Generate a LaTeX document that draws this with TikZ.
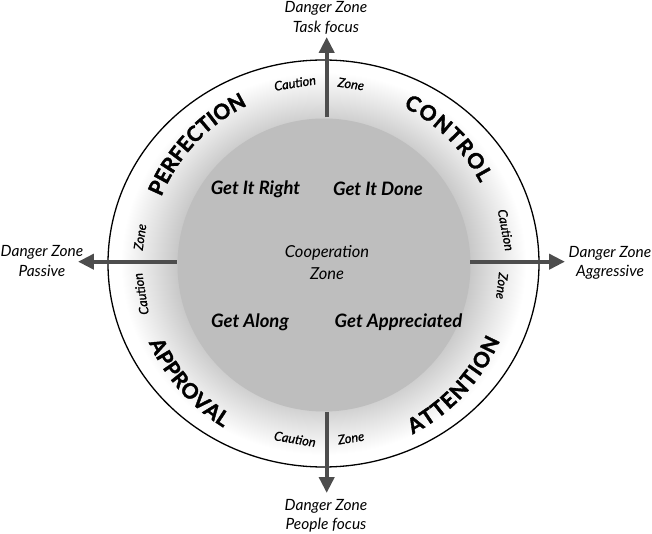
\documentclass[tikz,border=0pt]{standalone}
\usepackage{fontspec}
\setmainfont{Lato}
\newfontfamily\bigfont{Lato}[BoldFeatures={FakeBold=1.8}]
\newfontfamily\cautfont{Lato}[ItalicFeatures={FakeBold=0.9}]
\usetikzlibrary{arrows.meta,decorations.text}
\definecolor{arrowgray}{RGB}{77,77,77}
\definecolor{diskgray}{RGB}{190,190,190}
\definecolor{ringgray}{RGB}{200,200,200}
\definecolor{ringmid}{RGB}{226,226,226}
\pgfdeclareradialshading{ringshade}{\pgfpointorigin}{color(0bp)=(ringgray); color(17bp)=(ringgray); color(20bp)=(ringmid); color(23.5bp)=(white); color(50bp)=(white)}
\begin{document}
\begin{tikzpicture}[x=1pt,y=1pt,
  danger/.style={font=\itshape\fontsize{15.5}{19.5}\selectfont, align=center, inner sep=0pt},
  getlbl/.style={font=\bfseries\itshape\fontsize{18.5}{20}\selectfont, inner sep=0pt},
  coop/.style={font=\itshape\fontsize{16.5}{22}\selectfont, align=center, inner sep=0pt},
  caut/.style={font=\cautfont\itshape\fontsize{12.8}{14}\selectfont, inner sep=0pt},
  arr/.style={draw=arrowgray, line width=4pt, -{Triangle[length=16pt,width=15pt]}},
  bigword/.style={decorate, decoration={text along path, text align={fit to path}}},
]
\useasboundingbox (-324,-270) rectangle (328,264);
% ring and disk
\shade[shading=ringshade] (-0.5,0.5) ellipse [x radius=215.5, y radius=203.5];
\fill[diskgray] (0,-1) circle (146.5);
\draw[line width=1.3pt] (-0.5,0.5) ellipse [x radius=215.5, y radius=203.5];
% arrow end points
\coordinate (topin) at (2.7,146.7);
\coordinate (toptip) at (2.7,227);
\coordinate (botin) at (2.7,-148);
\coordinate (bottip) at (2.7,-229);
\coordinate (leftin) at (-147.3,2.3);
\coordinate (lefttip) at (-246,2.3);
\coordinate (rightin) at (146,2.3);
\coordinate (righttip) at (241,2.3);
\draw[arr] (topin) -- (toptip);
\draw[arr] (botin) -- (bottip);
\draw[arr] (leftin) -- (lefttip);
\draw[arr] (rightin) -- (righttip);
% danger labels
\node[danger] (dtop) at (2,246) {Danger Zone\\Task focus};
\node[danger] (dbot) at (2,-252) {Danger Zone\\People focus};
\node[danger] (dleft) at (-282,3) {Danger Zone\\Passive};
\node[danger] (dright) at (286,1) {Danger Zone\\Aggressive};
% inner labels
\node[coop] (coop) at (3,1) {Cooperation\\Zone};
\node[getlbl] (right) at (-68.5,75) {Get It Right};
\node[getlbl] (done) at (54,75) {Get It Done};
\node[getlbl] (along) at (-74,-58) {Get Along};
\node[getlbl] (appr) at (74.5,-58) {Get Appreciated};
% caution zone words
\node[caut, rotate=9.1] (ctop) at (-29,181) {Caution};
\node[caut, rotate=-8.5] (ztop) at (27,180) {Zone};
\node[caut, rotate=-9.4] (cbot) at (-29,-175) {Caution};
\node[caut, rotate=8.8] (zbot) at (27,-174) {Zone};
\node[caut, rotate=81.7] (zleft) at (-184,27) {Zone};
\node[caut, rotate=99.3] (cleft) at (-183,-30) {Caution};
\node[caut, rotate=-79.4] (cright) at (182,34) {Caution};
\node[caut, rotate=-97] (zright) at (178,-22) {Zone};
% big curved words
\path[bigword, decoration={text={|\bigfont\bfseries\fontsize{21}{20}\selectfont|PERFECTION}}]
  (157.6:176) arc[start angle=157.6, end angle=116.6, radius=176];
\path[bigword, decoration={text={|\bigfont\bfseries\fontsize{21}{20}\selectfont|CONTROL}}]
  (63.2:176) arc[start angle=63.2, end angle=27.4, radius=176];
\path[bigword, decoration={text={|\bigfont\bfseries\fontsize{21}{20}\selectfont|APPROVAL}}]
  (204.2:192) arc[start angle=204.2, end angle=238.4, radius=192];
\path[bigword, decoration={text={|\bigfont\bfseries\fontsize{21}{20}\selectfont|ATTENTION}}]
  (297.5:192) arc[start angle=297.5, end angle=336.5, radius=192];
\end{tikzpicture}
\end{document}
